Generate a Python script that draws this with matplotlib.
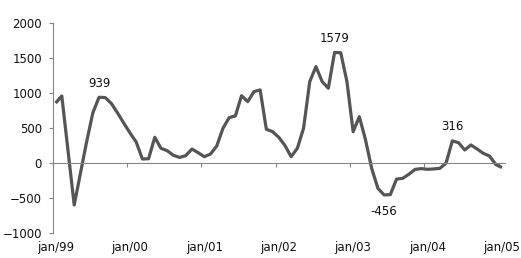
import numpy as np
import matplotlib.pyplot as plt

# monthly values jan/99 .. jan/05
values = [857, 957, 180, -600, -150, 300, 714, 939, 935, 850,
          714, 570, 430, 300, 57, 61, 367, 210, 176, 110,
          80, 105, 200, 147, 90, 129, 243, 496, 648, 672,
          962, 877, 1020, 1044, 482, 448, 367, 250, 90, 210,
          496, 1163, 1377, 1163, 1068, 1579, 1575, 1163, 448, 662,
          330, -80, -362, -456, -452, -230, -219, -160, -91, -80,
          -90, -85, -76, 0, 316, 290, 186, 258, 200, 138,
          100, -20, -65]
tick_labels = ['jan/99', 'jan/00', 'jan/01', 'jan/02', 'jan/03', 'jan/04', 'jan/05']
label_idx = [7, 45, 53, 64]

months = np.arange(len(values))
tick_pos = np.arange(0, len(values), 12)

plt.rcParams['font.family'] = 'DejaVu Sans'
plt.rcParams['font.size'] = 8.5
grey = '#868686'

fig = plt.figure(figsize=(5.21, 2.58), dpi=100)
ax = fig.add_axes([52.5 / 521, 25 / 258, (505 - 52.5) / 521, 210 / 258])

ax.plot(months + 0.5, values, color='#555555', lw=2.3, solid_joinstyle='round',
        solid_capstyle='butt')

for i in label_idx:
    v = values[i]
    dy = 10 if v > 0 else -12
    ax.annotate(str(v), (i + 0.5, v), xytext=(0, dy), textcoords='offset points',
                ha='center', va='center', color='#111111')

ax.set_xlim(0, len(values))
ax.set_ylim(-1000, 2000)
ax.set_yticks(range(-1000, 2001, 500))

for s in ['top', 'right']:
    ax.spines[s].set_visible(False)
ax.spines['left'].set_color(grey)
ax.spines['bottom'].set_color(grey)
ax.spines['bottom'].set_position(('data', 0))

ax.tick_params(axis='y', direction='out', length=3, color=grey, pad=4.5, labelcolor='#111111')
ax.set_xticks(tick_pos)
ax.tick_params(axis='x', direction='out', length=3, color=grey, labelbottom=False)

sec = ax.secondary_xaxis(0)
sec.set_xticks(tick_pos + 0.5, tick_labels)
sec.tick_params(length=0, pad=6, labelcolor='#111111')
sec.spines['bottom'].set_visible(False)

plt.savefig('out.png', dpi=100)
